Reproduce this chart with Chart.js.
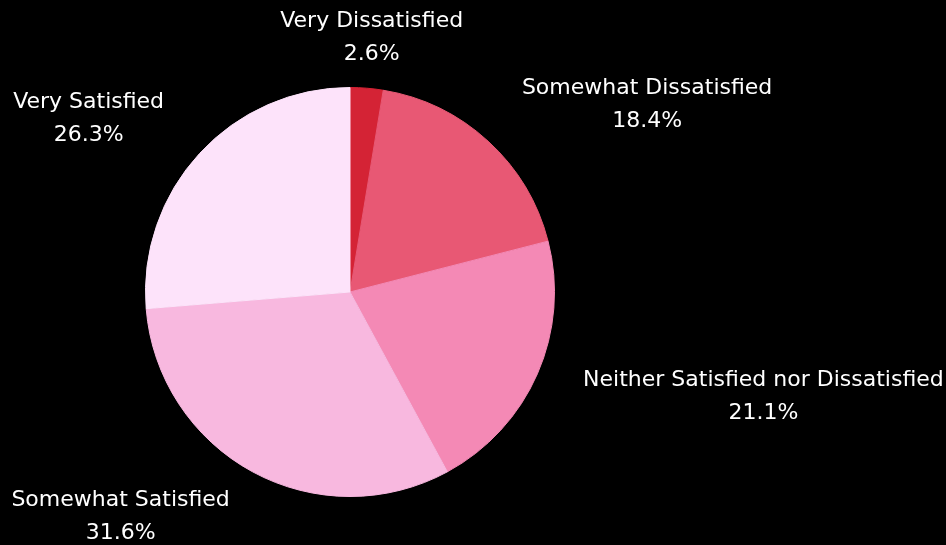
<!DOCTYPE html>
<html>
<head>
<meta charset="utf-8">
<script src="https://cdn.jsdelivr.net/npm/chart.js@4.4.1/dist/chart.umd.min.js"></script>
<style>
  html, body { margin: 0; padding: 0; background: #000; }
  #wrap { width: 946px; height: 545px; }
</style>
</head>
<body>
<div id="wrap"><canvas id="c" width="946" height="545"></canvas></div>
<script>
const categories = ["Very Dissatisfied", "Somewhat Dissatisfied", "Neither Satisfied nor Dissatisfied", "Somewhat Satisfied", "Very Satisfied"];
const values = [2.6, 18.4, 21.1, 31.6, 26.3];
const colors = ["#d42335", "#e85874", "#f489b5", "#f8b8df", "#fde3fa"];

// label nudges relative to slice mid-point on the rim (style only)
const labelNudge = [[5, -50], [159, -36], [226, 23], [-132, 45], [-111, -35]];

const outsideLabels = {
  id: 'outsideLabels',
  afterDraw(chart) {
    const ctx = chart.ctx;
    const meta = chart.getDatasetMeta(0);
    const total = values.reduce((a, b) => a + b, 0);
    ctx.save();
    ctx.fillStyle = '#ffffff';
    ctx.font = '22px "DejaVu Sans", sans-serif';
    ctx.textAlign = 'center';
    ctx.textBaseline = 'middle';
    meta.data.forEach((arc, i) => {
      const p = arc.getProps(['x', 'y', 'startAngle', 'endAngle', 'outerRadius'], true);
      const mid = (p.startAngle + p.endAngle) / 2;
      const ax = p.x + Math.cos(mid) * p.outerRadius + labelNudge[i][0];
      const ay = p.y + Math.sin(mid) * p.outerRadius + labelNudge[i][1];
      const pct = (values[i] / total * 100).toFixed(1) + '%';
      ctx.fillText(categories[i], ax, ay - 16.5);
      ctx.fillText(pct, ax, ay + 16.5);
    });
    ctx.restore();
  }
};

new Chart(document.getElementById('c'), {
  type: 'pie',
  data: {
    labels: categories,
    datasets: [{
      data: values,
      backgroundColor: colors,
      borderColor: colors,
      borderWidth: 1
    }]
  },
  options: {
    responsive: false,
    animation: false,
    layout: { padding: { left: 145, right: 391, top: 87, bottom: 48 } },
    plugins: {
      legend: { display: false },
      tooltip: { enabled: false }
    }
  },
  plugins: [outsideLabels]
});
</script>
</body>
</html>
